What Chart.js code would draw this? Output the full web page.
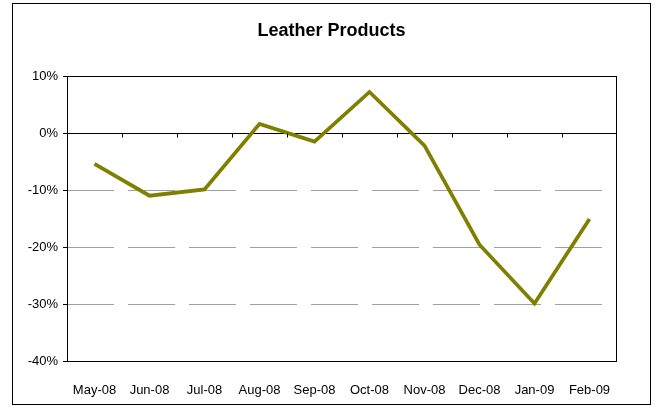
<!DOCTYPE html>
<html>
<head>
<meta charset="utf-8">
<script src="https://cdn.jsdelivr.net/npm/chart.js@4"></script>
<style>
  html, body { margin: 0; padding: 0; background: #fff; }
  #grafico { display: block; }
</style>
</head>
<body>
<canvas id="grafico" width="656" height="406"></canvas>
<script>
// datos del grafico
var titulo = "Leather Products";
var meses = ["May-08", "Jun-08", "Jul-08", "Aug-08", "Sep-08", "Oct-08", "Nov-08", "Dec-08", "Jan-09", "Feb-09"];
var variacion = [-5.4, -11.0, -9.9, 1.6, -1.5, 7.2, -2.2, -19.6, -29.9, -15.1];
var ejeMin = -40;
var ejeMax = 10;
var paso = 10;

var fuente = "'Liberation Sans', Arial, sans-serif";

// marco exterior, titulo, borde del area y marcas sobre la linea del 0%
var decorado = {
    id: "decorado",
    afterDraw: function(chart) {
        var ctx = chart.ctx;
        var area = chart.chartArea;
        var x = chart.scales.x;
        var y = chart.scales.y;
        ctx.save();

        ctx.strokeStyle = "#000";
        ctx.lineWidth = 1;
        ctx.strokeRect(12.5, 3.5, 638, 401);

        ctx.strokeRect(Math.round(area.left) + 0.5, Math.round(area.top) + 0.5,
            Math.round(area.right - area.left) - 1, Math.round(area.bottom - area.top));

        // marcas entre categorias
        var cero = Math.round(y.getPixelForValue(0)) + 0.5;
        ctx.beginPath();
        for (let i = 1; i < meses.length; i++) {
            let bx = Math.round((x.getPixelForValue(i - 1) + x.getPixelForValue(i)) / 2) + 0.5;
            ctx.moveTo(bx, cero);
            ctx.lineTo(bx, cero + 4);
        }
        ctx.stroke();

        ctx.fillStyle = "#000";
        ctx.font = "bold 18px " + fuente;
        ctx.textAlign = "center";
        ctx.textBaseline = "alphabetic";
        ctx.fillText(titulo, 331.5, 36);
        ctx.restore();
    }
};

var ctx = document.getElementById("grafico").getContext("2d");
var chart = new Chart(ctx, {
    type: "line",
    data: {
        labels: meses,
        datasets: [{
            label: titulo,
            data: variacion,
            borderColor: "#808000",
            borderWidth: 3.75,
            pointRadius: 0,
            tension: 0,
            fill: false
        }]
    },
    options: {
        responsive: false,
        animation: false,
        layout: { padding: { left: 0, top: 76, right: 39, bottom: 0 } },
        plugins: {
            legend: { display: false },
            title: { display: false },
            tooltip: { enabled: false }
        },
        scales: {
            x: {
                offset: true,
                grid: { display: false, drawTicks: false },
                border: { display: false },
                ticks: {
                    color: "#000",
                    font: { family: fuente, size: 13 },
                    padding: 22,
                    maxRotation: 0,
                    autoSkip: false
                },
                afterFit: function(s) { s.height = 45; }
            },
            y: {
                min: ejeMin,
                max: ejeMax,
                border: {
                    display: false,
                    dash: function(c) { return c.tick && c.tick.value === 0 ? [] : [47, 14]; }
                },
                grid: {
                    tickLength: 4,
                    tickColor: "#000",
                    lineWidth: 1,
                    color: function(c) {
                        if (!c.tick) return "rgba(0,0,0,0)";
                        var v = c.tick.value;
                        if (v === 0) return "#000";
                        if (v === ejeMin || v === ejeMax) return "rgba(0,0,0,0)";
                        return "#a0a0a0";
                    }
                },
                ticks: {
                    stepSize: paso,
                    color: "#000",
                    padding: 5,
                    font: { family: fuente, size: 13 },
                    callback: function(v) { return v + "%"; }
                },
                afterFit: function(s) { s.width = 67; }
            }
        }
    },
    plugins: [decorado]
});
</script>
</body>
</html>
